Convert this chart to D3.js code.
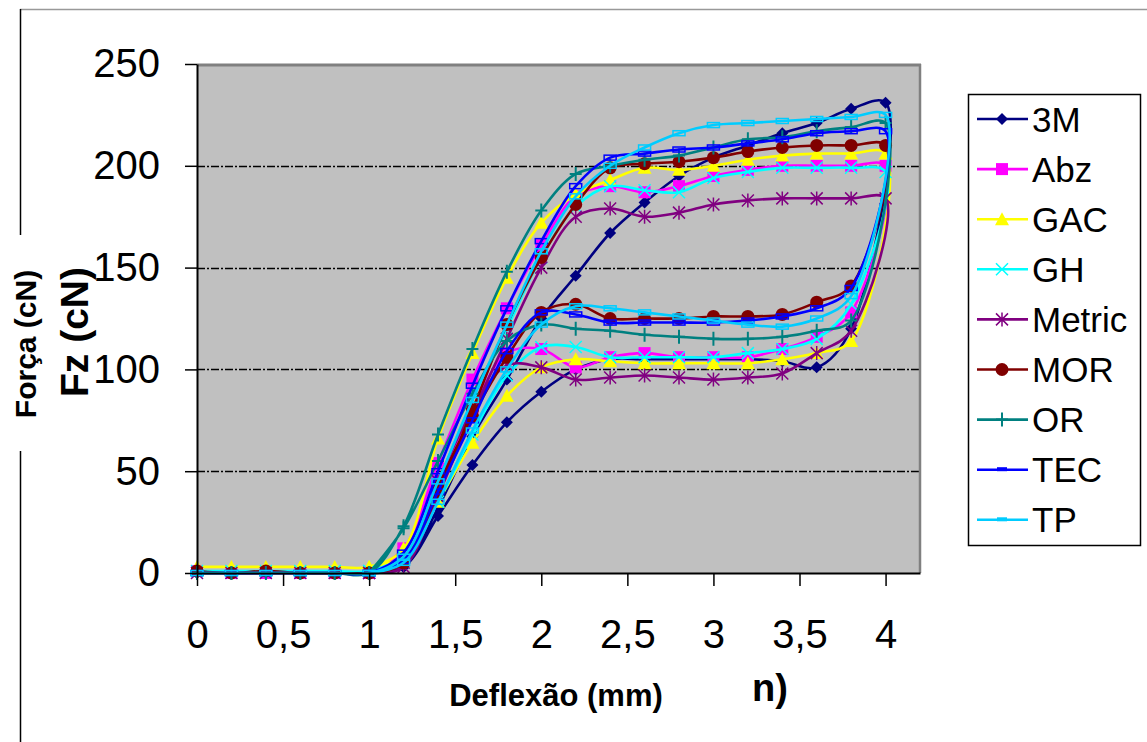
<!DOCTYPE html>
<html><head><meta charset="utf-8">
<script src="https://cdn.jsdelivr.net/npm/d3@7/dist/d3.min.js"></script>
<style>
html,body{margin:0;padding:0;background:#fff;}
text{font-family:"Liberation Sans",Arial,sans-serif;}
</style></head>
<body>
<svg id="chart" width="1147" height="742"></svg>
<script>
// x positions: loading 0 -> 4, then unloading 3.8 -> 1
const deflexao = [0,0.2,0.4,0.6,0.8,1,1.2,1.4,1.6,1.8,2,2.2,2.4,2.6,2.8,3,3.2,3.4,3.6,3.8,4,
                  3.8,3.6,3.4,3.2,3,2.8,2.6,2.4,2.2,2,1.8,1.6,1.4,1.2,1];
const seriesNames = ["3M","Abz","GAC","GH","Metric","MOR","OR","TEC","TP"];
const s3M    = [0,0,0,0,0,0,3,32,67,95,125,146,167,182,195,204,210,216,221,228,231,
                120,101,104,105,105,105,105,105,100,89,74,53,28,3,0];
const sAbz   = [1,0,0,0,0,0,12,54,95,130,161,185,190,187,190,195,198,200,200,200,200,
                128,116,110,106,106,106,108,106,101,110,108,80,45,12,0];
const sGAC   = [3,3,3,3,3,3,12,66,108,145,172,186,193,199,198,200,203,205,206,206,206,
                114,108,105,103,103,103,103,104,105,101,87,64,35,8,3];
const sGH    = [1,1,1,1,1,1,8,45,85,120,155,180,190,188,187,194,197,199,199,199,197,
                132,115,110,108,106,106,106,106,111,111,97,68,35,8,1];
const sMetric= [0,0,0,0,0,0,3,38,78,115,150,175,179,175,177,181,183,184,184,184,184,
                119,108,98,96,95,96,97,96,95,101,102,80,45,5,0];
const sMOR   = [1,0,1,0,0,0,5,40,80,122,155,181,199,201,202,204,207,209,210,210,210,
                141,133,127,126,126,125,125,125,132,128,106,77,43,7,0];
const sOR    = [0,0,0,0,0,0,23,68,110,148,178,196,200,203,205,209,213,214,217,219,221,
                124,119,116,115,115,116,117,119,120,122,114,88,55,22,0];
const sTEC   = [0,0,0,0,0,0,10,50,92,130,163,190,204,206,208,209,211,213,216,217,217,
                140,130,126,124,123,123,123,123,127,128,109,75,40,6,0];
const sTP    = [0,0,0,0,0,0,8,45,85,122,158,185,200,209,216,220,221,222,223,224,225,
                136,125,121,122,124,126,128,130,131,122,100,70,35,5,0];
const seriesValues = [s3M,sAbz,sGAC,sGH,sMetric,sMOR,sOR,sTEC,sTP];
const yTicks = [0,50,100,150,200,250];
const xTicks = [0,0.5,1,1.5,2,2.5,3,3.5,4];
const gridValues = [50,100,150,200];

const colors = ["#000080","#FF00FF","#FFFF00","#00FFFF","#800080","#800000","#008080","#0000FF","#00CCFF"];
const shapes = ["diamond","square","triangle","x","asterisk","circle","plus","dash","dash"];

const svg = d3.select("#chart");
const x = d3.scaleLinear().domain([0,4.2]).range([197,920]);
const y = d3.scaleLinear().domain([0,250]).range([573,64]);

// outer chart border (partial)
svg.append("line").attr("x1",20).attr("x2",1147).attr("y1",9.5).attr("y2",9.5).attr("stroke","#999").attr("stroke-width",1.5);
svg.append("line").attr("x1",20.5).attr("x2",20.5).attr("y1",9).attr("y2",235).attr("stroke","#000").attr("stroke-width",1.5);
svg.append("line").attr("x1",20.5).attr("x2",20.5).attr("y1",451).attr("y2",742).attr("stroke","#000").attr("stroke-width",1.5);

// plot background
svg.append("rect").attr("x",x(0)).attr("y",y(250)).attr("width",x(4.2)-x(0)).attr("height",y(0)-y(250)).attr("fill","#C0C0C0");
// grid
svg.append("g").selectAll("line").data(gridValues).join("line")
  .attr("x1",x(0)).attr("x2",x(4.2)).attr("y1",d=>Math.round(y(d))+0.5).attr("y2",d=>Math.round(y(d))+0.5)
  .attr("stroke","#000").attr("stroke-width",1.5).attr("stroke-dasharray","8,2,2,2");
// top/right border
svg.append("line").attr("x1",x(0)).attr("x2",x(4.2)+1).attr("y1",y(250)+1).attr("y2",y(250)+1).attr("stroke","#808080").attr("stroke-width",3);
svg.append("line").attr("x1",x(4.2)).attr("x2",x(4.2)).attr("y1",y(250)).attr("y2",y(0)).attr("stroke","#808080").attr("stroke-width",2.5);

// series
const line = d3.line().x(d=>x(d[0])).y(d=>y(d[1])).curve(d3.curveCatmullRom.alpha(0.5));
function marker(g, shape, color, cx, cy, legend){
  const s = 6;
  if(shape==="diamond") g.append("path").attr("d",`M${cx},${cy-s}L${cx+s},${cy}L${cx},${cy+s}L${cx-s},${cy}Z`).attr("fill",color);
  else if(shape==="square") g.append("rect").attr("x",cx-6).attr("y",cy-6).attr("width",12).attr("height",12).attr("fill",color);
  else if(shape==="triangle") g.append("path").attr("d",`M${cx},${cy-7}L${cx+7},${cy+6}L${cx-7},${cy+6}Z`).attr("fill",color);
  else if(shape==="circle") g.append("circle").attr("cx",cx).attr("cy",cy).attr("r",6.5).attr("fill",color);
  else if(shape==="x") g.append("path").attr("d",`M${cx-6},${cy-6}L${cx+6},${cy+6}M${cx-6},${cy+6}L${cx+6},${cy-6}`).attr("stroke",color).attr("stroke-width",1.5);
  else if(shape==="asterisk") g.append("path").attr("d",`M${cx-6},${cy-6}L${cx+6},${cy+6}M${cx-6},${cy+6}L${cx+6},${cy-6}M${cx},${cy-7}L${cx},${cy+7}`).attr("stroke",color).attr("stroke-width",1.5);
  else if(shape==="plus") g.append("path").attr("d",`M${cx-6},${cy}L${cx+6},${cy}M${cx},${cy-7}L${cx},${cy+7}`).attr("stroke",color).attr("stroke-width",2);
  else if(shape==="dash"){
    if(legend) g.append("rect").attr("x",cx-5).attr("y",cy-2.5).attr("width",10).attr("height",4).attr("fill",color);
    else g.append("rect").attr("x",cx-6).attr("y",cy-2.5).attr("width",12).attr("height",5).attr("fill","none").attr("stroke",color).attr("stroke-width",1.5);
  }
}
const plot = svg.append("g");
seriesValues.forEach((vals,i)=>{
  const pts = deflexao.map((d,j)=>[d,vals[j]]);
  const g = plot.append("g");
  g.append("path").attr("d",line(pts)).attr("fill","none").attr("stroke",colors[i]).attr("stroke-width",2.6);
  pts.forEach(p=>marker(g, shapes[i], colors[i], x(p[0]), y(p[1]), false));
});

// axes
const yAxis = svg.append("g").attr("transform",`translate(${x(0)},0)`)
  .call(d3.axisLeft(y).tickValues(yTicks).tickSize(12).tickSizeOuter(0).tickPadding(25).tickFormat(d=>String(d)));
const xAxis = svg.append("g").attr("transform",`translate(0,${y(0)})`)
  .call(d3.axisBottom(x).tickValues(xTicks).tickSize(13).tickSizeOuter(0).tickFormat(d=>String(d).replace(".",",")));
[yAxis,xAxis].forEach(a=>{
  a.selectAll("path.domain").attr("stroke","#000").attr("stroke-width",2);
  a.selectAll(".tick line").attr("stroke","#000").attr("stroke-width",1.5);
  a.selectAll("text").attr("font-size",40).attr("fill","#000").style("font-family","'Liberation Sans',Arial,sans-serif");
});
xAxis.selectAll("text").attr("y",75).attr("dy",null);

// axis titles
svg.append("text").attr("x",556).attr("y",706).attr("text-anchor","middle").attr("font-size",31).attr("font-weight","bold").text("Deflexão (mm)");
svg.append("text").attr("x",770).attr("y",701).attr("text-anchor","middle").attr("font-size",38).attr("font-weight","bold").text("n)");
svg.append("text").attr("transform","translate(36,344) rotate(-90)").attr("text-anchor","middle").attr("font-size",30).attr("font-weight","bold").text("Força (cN)");
svg.append("text").attr("transform","translate(88,332) rotate(-90)").attr("text-anchor","middle").attr("font-size",39).attr("font-weight","bold").text("Fz (cN)");

// legend
const leg = svg.append("g");
leg.append("rect").attr("x",968.5).attr("y",94.5).attr("width",172).attr("height",451).attr("fill","#fff").attr("stroke","#000").attr("stroke-width",1.5);
seriesNames.forEach((n,i)=>{
  const ly = 119 + i*50.1;
  leg.append("line").attr("x1",977).attr("x2",1028).attr("y1",ly).attr("y2",ly).attr("stroke",colors[i]).attr("stroke-width",2.6);
  marker(leg, shapes[i], colors[i], 1002, ly, true);
  leg.append("text").attr("x",1032).attr("y",ly+12.5).attr("font-size",35).attr("fill","#000").text(n);
});
</script>
</body></html>
